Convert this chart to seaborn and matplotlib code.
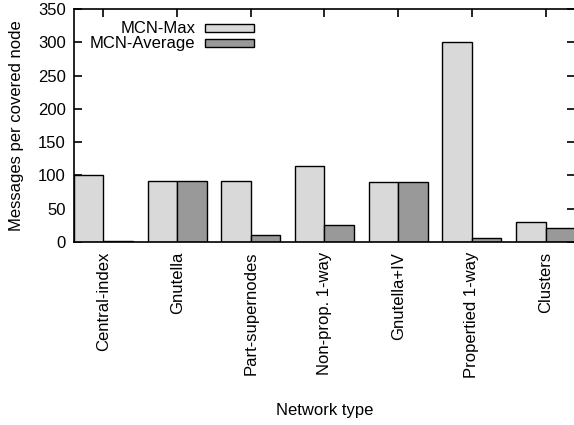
'''
Grouped bar chart: messages per covered node by network type.
'''
import matplotlib
matplotlib.use('Agg')
import matplotlib.pyplot as plt
import pandas as pd
import seaborn as sns

networks = ['Central-index', 'Gnutella', 'Part-supernodes', 'Non-prop. 1-way',
            'Gnutella+IV', 'Propertied 1-way', 'Clusters']
mcn_max = [100, 91, 92, 114, 90, 300, 30]
mcn_avg = [1, 91, 10, 26, 90, 6, 21]
series = ['MCN-Max', 'MCN-Average']

df = pd.DataFrame({
    'network': networks * 2,
    'value': mcn_max + mcn_avg,
    'series': [series[0]] * len(networks) + [series[1]] * len(networks),
})

sns.set_theme(style='ticks')
plt.rcParams['font.family'] = ['Liberation Sans', 'DejaVu Sans']
plt.rcParams['text.color'] = 'black'
plt.rcParams['axes.labelcolor'] = 'black'
fs = 12

fig = plt.figure(figsize=(5.74, 4.25), dpi=100)
ax = fig.add_axes([74 / 574, 183 / 425, 501 / 574, 233 / 425])

sns.barplot(data=df, x='network', y='value', hue='series', order=networks,
            hue_order=series, palette=['#d9d9d9', '#999999'], width=0.8,
            edgecolor='black', linewidth=1, saturation=1, ax=ax)

ax.set_xlim(-0.4, len(networks) - 0.6)
ax.set_ylim(0, 350)
ax.set_yticks(range(0, 351, 50))
ax.set_xlabel('Network type', fontsize=fs, labelpad=18)
ax.set_ylabel('Messages per covered node', fontsize=fs, labelpad=10)

for s in ax.spines.values():
    s.set_visible(True)
    s.set_linewidth(1.2)
    s.set_color('black')

ax.tick_params(axis='both', direction='in', length=6, width=1.2, colors='black',
               labelsize=fs, top=True, right=True)
ax.tick_params(axis='x', pad=7)
ax.tick_params(axis='y', pad=6)
ax.set_xticks(range(len(networks)))
ax.set_xticklabels(networks, rotation=90, va='top', ha='center')

ax.legend(loc='upper right', bbox_to_anchor=(0.372, 0.975), frameon=False,
          markerfirst=False, handlelength=2.9, handleheight=0.36,
          labelspacing=0.0, borderaxespad=0.0, borderpad=0.4, fontsize=fs,
          handletextpad=0.6)

fig.savefig('out.png', dpi=100)
